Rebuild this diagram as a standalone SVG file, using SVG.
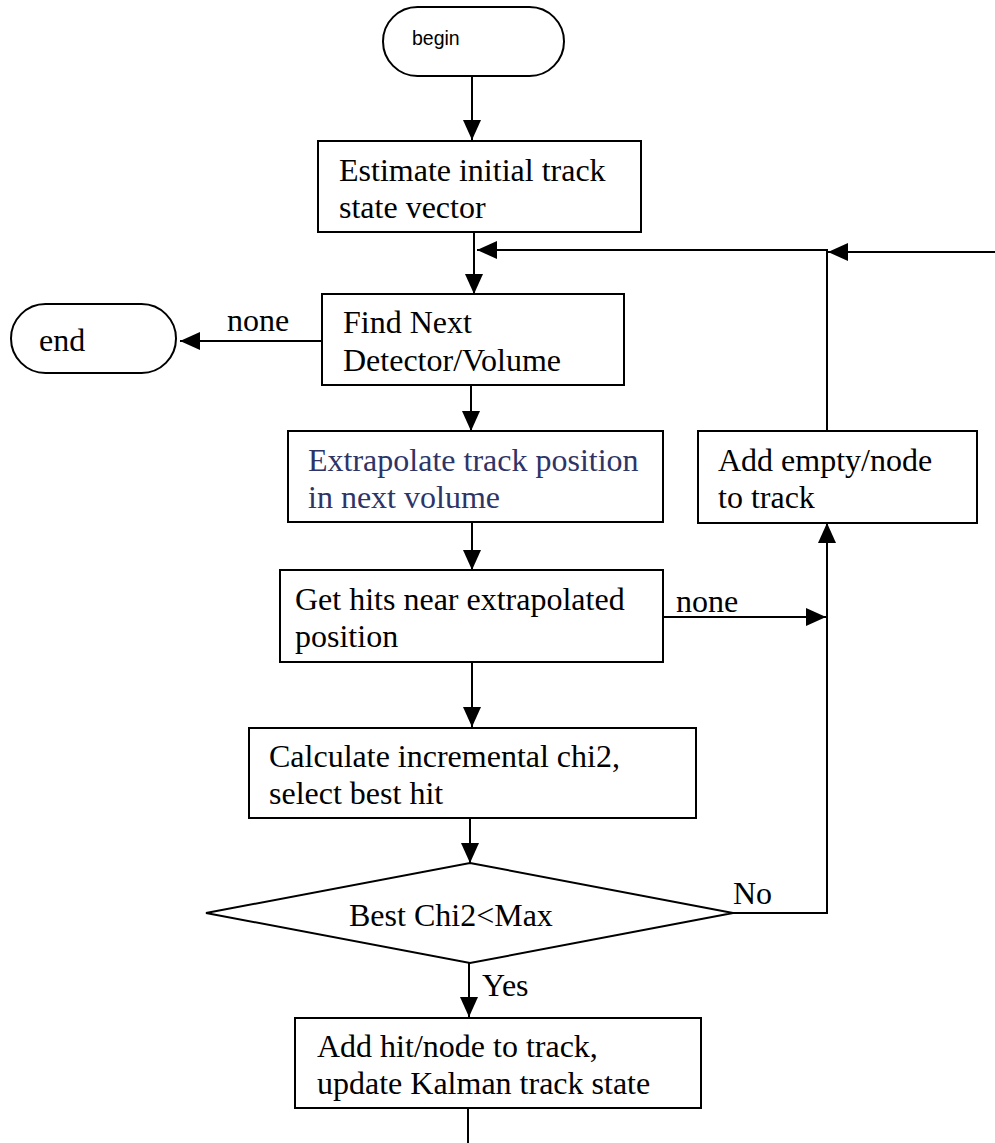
<svg xmlns="http://www.w3.org/2000/svg" width="995" height="1143" viewBox="0 0 995 1143">
<style>
.box{fill:#fff;stroke:#000;stroke-width:2}
.t{font-family:"Liberation Serif","Times New Roman",serif;font-size:32px;fill:#000}
.nv{fill:#2E3466}
.s{font-family:"Liberation Sans",Arial,sans-serif;font-size:19.5px;fill:#000}
.c{fill:none;stroke:#000;stroke-width:2}
</style>
<defs>
<marker id="ah" viewBox="0 0 20 18" refX="20" refY="9" markerWidth="20" markerHeight="18" markerUnits="userSpaceOnUse" orient="auto">
<path d="M0,0 L20,9 L0,18 z" fill="#000"/>
</marker>
</defs>
<rect width="995" height="1143" fill="#fff"/>
<g id="connectors">
<path class="c" d="M472,76 V140" marker-end="url(#ah)"/>
<path class="c" d="M474,232 V294" marker-end="url(#ah)"/>
<path class="c" d="M827,431 V250 H477" marker-end="url(#ah)"/>
<path class="c" d="M995,252 H828" marker-end="url(#ah)"/>
<path class="c" d="M322,341 H180" marker-end="url(#ah)"/>
<path class="c" d="M471,385 V431" marker-end="url(#ah)"/>
<path class="c" d="M472,522 V570" marker-end="url(#ah)"/>
<path class="c" d="M663,617 H826" marker-end="url(#ah)"/>
<path class="c" d="M472,662 V727" marker-end="url(#ah)"/>
<path class="c" d="M470,818 V863" marker-end="url(#ah)"/>
<path class="c" d="M733,913 H827 V523" marker-end="url(#ah)"/>
<path class="c" d="M469,963 V1017" marker-end="url(#ah)"/>
<path class="c" d="M468,1108 V1143"/>
<text class="t" x="227" y="331">none</text>
<text class="t" x="676" y="612">none</text>
<text class="t" x="733" y="904">No</text>
<text class="t" x="482" y="996">Yes</text>
</g>
<g id="begin">
<rect class="box" x="383" y="7" width="181" height="69" rx="34.5" ry="34.5"/>
<text class="s" x="412" y="45">begin</text>
</g>
<g id="estimate">
<rect class="box" x="318" y="141" width="323" height="91"/>
<text class="t" x="339" y="181">Estimate initial track</text>
<text class="t" x="339" y="218">state vector</text>
</g>
<g id="end">
<rect class="box" x="11" y="304" width="165" height="69" rx="34.5" ry="34.5"/>
<text class="t" x="39" y="351">end</text>
</g>
<g id="findnext">
<rect class="box" x="322" y="294" width="302" height="91"/>
<text class="t" x="343" y="333">Find Next</text>
<text class="t" x="343" y="371">Detector/Volume</text>
</g>
<g id="extrapolate">
<rect class="box" x="288" y="431" width="375" height="91"/>
<text class="t nv" x="308" y="471">Extrapolate track position</text>
<text class="t nv" x="308" y="508">in next volume</text>
</g>
<g id="addempty">
<rect class="box" x="698" y="431" width="279" height="92"/>
<text class="t" x="718" y="471">Add empty/node</text>
<text class="t" x="718" y="508">to track</text>
</g>
<g id="gethits">
<rect class="box" x="280" y="570" width="383" height="92"/>
<text class="t" x="295" y="610">Get hits near extrapolated</text>
<text class="t" x="295" y="647">position</text>
</g>
<g id="calc">
<rect class="box" x="249" y="728" width="447" height="90"/>
<text class="t" x="269" y="767">Calculate incremental chi2,</text>
<text class="t" x="269" y="804">select best hit</text>
</g>
<g id="decision">
<polygon class="box" points="470,863 733,913 470,963 206,913"/>
<text class="t" x="349" y="926">Best Chi2&lt;Max</text>
</g>
<g id="addhit">
<rect class="box" x="295" y="1018" width="406" height="90"/>
<text class="t" x="317" y="1057">Add hit/node to track,</text>
<text class="t" x="317" y="1094">update Kalman track state</text>
</g>
</svg>
